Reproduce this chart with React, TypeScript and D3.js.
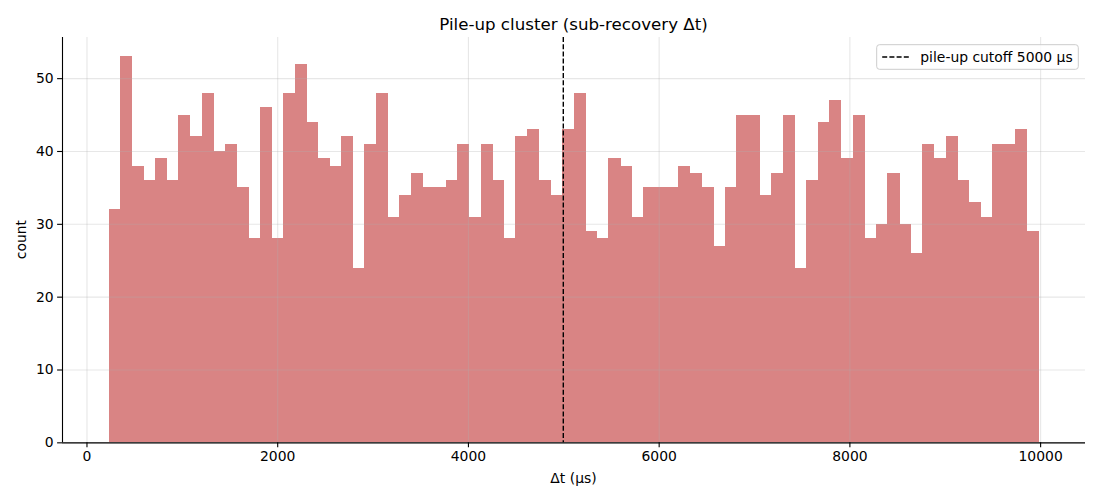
import { useEffect, useRef } from "react";
import * as d3 from "d3";

// histogram counts per bin (80 bins)
const counts = [
  32, 53, 38, 36, 39, 36, 45, 42, 48, 40, 41, 35, 28, 46, 28, 48, 52, 44, 39, 38,
  42, 24, 41, 48, 31, 34, 37, 35, 35, 36, 41, 31, 41, 36, 28, 42, 43, 36, 34, 43,
  48, 29, 28, 39, 38, 31, 35, 35, 35, 38, 37, 35, 27, 35, 45, 45, 34, 37, 45, 24,
  36, 44, 47, 39, 45, 28, 30, 37, 30, 26, 41, 39, 42, 36, 33, 31, 41, 41, 43, 29,
];
// data range covered by the bins (µs)
const binRange = [231, 9983];
const xTicks = [0, 2000, 4000, 6000, 8000, 10000];
const yTicks = [0, 10, 20, 30, 40, 50];
const cutoff = 5000;
const cutoffLabel = "pile-up cutoff 5000 μs";

const FONT = "DejaVu Sans, sans-serif";

export default function App() {
  const svgRef = useRef<SVGSVGElement>(null);

  useEffect(() => {
    document.body.style.margin = "0";
    if (!svgRef.current) return;

    const W = 1100;
    const H = 500;
    const margin = { top: 37, right: 15, bottom: 57.67, left: 62 };
    const width = W - margin.left - margin.right;
    const height = H - margin.top - margin.bottom;

    d3.select(svgRef.current).selectAll("*").remove();
    const root = d3.select(svgRef.current).attr("width", W).attr("height", H);

    const svg = root.append("g").attr("transform", `translate(${margin.left},${margin.top})`);

    const n = counts.length;
    const step = (binRange[1] - binRange[0]) / n;
    const bins = counts.map((c, i) => ({ x0: binRange[0] + i * step, x1: binRange[0] + (i + 1) * step, c }));

    const span = binRange[1] - binRange[0];
    const x = d3.scaleLinear()
      .domain([binRange[0] - 0.05 * span, binRange[1] + 0.05 * span])
      .range([0, width]);
    const y = d3.scaleLinear()
      .domain([0, (d3.max(counts) || 1) * 1.05])
      .range([height, 0]);

    // Bars (opacity on the group so the small overlaps don't show seams)
    svg.append("g")
      .attr("opacity", 0.75)
      .attr("shape-rendering", "crispEdges")
      .selectAll("rect")
      .data(bins)
      .enter()
      .append("rect")
      .attr("x", (d) => x(d.x0))
      .attr("y", (d) => y(d.c))
      .attr("width", (d) => x(d.x1) - x(d.x0) + 0.5)
      .attr("height", (d) => y(0) - y(d.c))
      .attr("fill", "indianred");

    // Grid
    svg.append("g")
      .call(d3.axisLeft(y).tickValues(yTicks).tickSize(-width).tickFormat(() => ""))
      .call((g) => g.select(".domain").remove())
      .call((g) => g.selectAll(".tick line").attr("stroke", "#b0b0b0").attr("stroke-opacity", 0.3).attr("stroke-width", 1.1));
    svg.append("g")
      .attr("transform", `translate(0,${height})`)
      .call(d3.axisBottom(x).tickValues(xTicks).tickSize(height).tickFormat(() => ""))
      .call((g) => g.select(".domain").remove())
      .call((g) => g.selectAll(".tick line").attr("y2", -height).attr("stroke", "#b0b0b0").attr("stroke-opacity", 0.3).attr("stroke-width", 1.1));

    // Cutoff line
    svg.append("line")
      .attr("x1", x(cutoff))
      .attr("x2", x(cutoff))
      .attr("y1", 0)
      .attr("y2", height)
      .attr("stroke", "#000")
      .attr("stroke-width", 1.4)
      .attr("stroke-dasharray", "5,2.2");

    // Axes
    svg.append("g")
      .attr("transform", `translate(0,${height})`)
      .call(d3.axisBottom(x).tickValues(xTicks).tickSize(4.9).tickPadding(3.5).tickFormat((d) => `${d}`))
      .call((g) => g.select(".domain").attr("stroke", "#000").attr("stroke-width", 1.1).attr("d", `M0,0.5H${width}`))
      .call((g) => g.selectAll(".tick line").attr("stroke", "#000").attr("stroke-width", 1.1))
      .call((g) => g.selectAll(".tick text").attr("fill", "#000").attr("font-size", "13.9px").attr("font-family", FONT));

    svg.append("g")
      .call(d3.axisLeft(y).tickValues(yTicks).tickSize(4.9).tickPadding(3.5))
      .call((g) => g.select(".domain").attr("stroke", "#000").attr("stroke-width", 1.1).attr("d", `M0.5,0V${height}`))
      .call((g) => g.selectAll(".tick line").attr("stroke", "#000").attr("stroke-width", 1.1))
      .call((g) => g.selectAll(".tick text").attr("fill", "#000").attr("font-size", "13.9px").attr("font-family", FONT));

    // Title
    svg.append("text")
      .attr("x", width / 2)
      .attr("y", -7)
      .attr("text-anchor", "middle")
      .attr("font-size", "16.67px")
      .attr("font-family", FONT)
      .attr("fill", "#000")
      .text("Pile-up cluster (sub-recovery Δt)");

    // Axis labels
    svg.append("text")
      .attr("x", width / 2)
      .attr("y", height + 40.5)
      .attr("text-anchor", "middle")
      .attr("font-size", "13.9px")
      .attr("font-family", FONT)
      .attr("fill", "#000")
      .text("Δt (μs)");

    svg.append("text")
      .attr("transform", `translate(${-36},${height / 2}) rotate(-90)`)
      .attr("text-anchor", "middle")
      .attr("font-size", "13.9px")
      .attr("font-family", FONT)
      .attr("fill", "#000")
      .text("count");

    // Legend
    const lg = svg.append("g").attr("transform", `translate(${width - 208.3},7.7)`);
    lg.append("rect")
      .attr("width", 201.6)
      .attr("height", 24.6)
      .attr("rx", 2.8)
      .attr("fill", "#fff")
      .attr("fill-opacity", 0.8)
      .attr("stroke", "#cccccc")
      .attr("stroke-width", 1);
    lg.append("line")
      .attr("x1", 5.5)
      .attr("x2", 33.3)
      .attr("y1", 12.3)
      .attr("y2", 12.3)
      .attr("stroke", "#000")
      .attr("stroke-width", 1.4)
      .attr("stroke-dasharray", "5,2.2");
    lg.append("text")
      .attr("x", 43.6)
      .attr("y", 12.3)
      .attr("dy", "0.35em")
      .attr("font-size", "13.9px")
      .attr("font-family", FONT)
      .attr("fill", "#000")
      .text(cutoffLabel);
  }, []);

  return <svg ref={svgRef} style={{ display: "block" }} />;
}
